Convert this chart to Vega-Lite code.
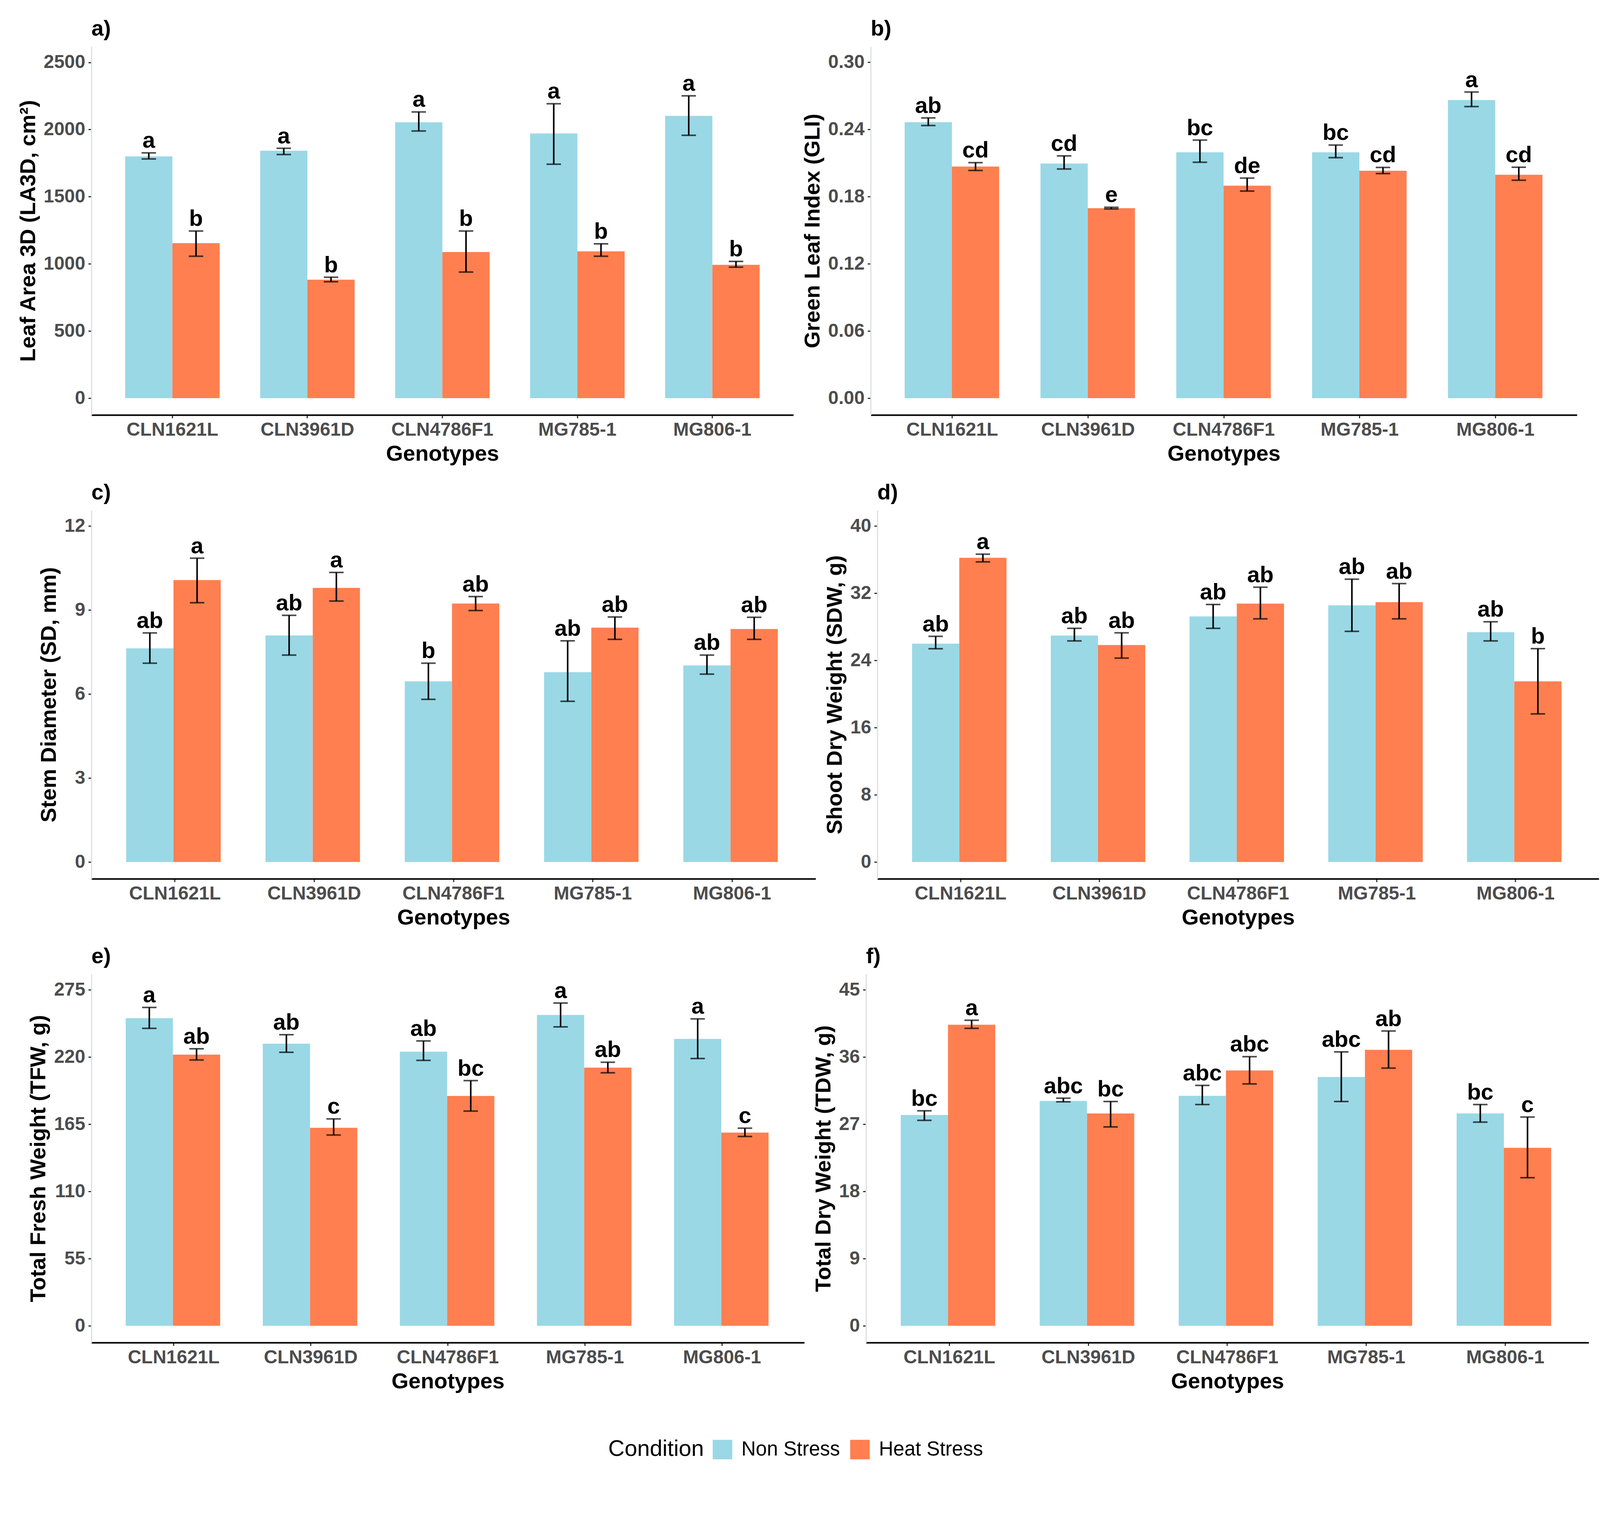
{
  "$schema": "https://vega.github.io/schema/vega-lite/v6.json",
  "padding": {"left": 44, "top": 46, "right": 10, "bottom": 10},
  "background": "white",
  "datasets": {
    "bars": [
      {"p": "a", "g": "CLN1621L", "c": "Non Stress", "m": 1800, "lo": 1781, "hi": 1826, "l": "a"},
      {"p": "a", "g": "CLN1621L", "c": "Heat Stress", "m": 1154, "lo": 1057, "hi": 1244, "l": "b"},
      {"p": "a", "g": "CLN3961D", "c": "Non Stress", "m": 1842, "lo": 1814, "hi": 1860, "l": "a"},
      {"p": "a", "g": "CLN3961D", "c": "Heat Stress", "m": 882, "lo": 867, "hi": 900, "l": "b"},
      {"p": "a", "g": "CLN4786F1", "c": "Non Stress", "m": 2054, "lo": 1989, "hi": 2131, "l": "a"},
      {"p": "a", "g": "CLN4786F1", "c": "Heat Stress", "m": 1088, "lo": 939, "hi": 1244, "l": "b"},
      {"p": "a", "g": "MG785-1", "c": "Non Stress", "m": 1971, "lo": 1742, "hi": 2192, "l": "a"},
      {"p": "a", "g": "MG785-1", "c": "Heat Stress", "m": 1093, "lo": 1057, "hi": 1149, "l": "b"},
      {"p": "a", "g": "MG806-1", "c": "Non Stress", "m": 2102, "lo": 1957, "hi": 2251, "l": "a"},
      {"p": "a", "g": "MG806-1", "c": "Heat Stress", "m": 993, "lo": 975, "hi": 1018, "l": "b"},

      {"p": "b", "g": "CLN1621L", "c": "Non Stress", "m": 0.2465, "lo": 0.2435, "hi": 0.2503, "l": "ab"},
      {"p": "b", "g": "CLN1621L", "c": "Heat Stress", "m": 0.2069, "lo": 0.2034, "hi": 0.2104, "l": "cd"},
      {"p": "b", "g": "CLN3961D", "c": "Non Stress", "m": 0.2096, "lo": 0.2047, "hi": 0.2164, "l": "cd"},
      {"p": "b", "g": "CLN3961D", "c": "Heat Stress", "m": 0.1697, "lo": 0.1690, "hi": 0.1705, "l": "e"},
      {"p": "b", "g": "CLN4786F1", "c": "Non Stress", "m": 0.2196, "lo": 0.2107, "hi": 0.2305, "l": "bc"},
      {"p": "b", "g": "CLN4786F1", "c": "Heat Stress", "m": 0.1898, "lo": 0.1850, "hi": 0.1966, "l": "de"},
      {"p": "b", "g": "MG785-1", "c": "Non Stress", "m": 0.2196, "lo": 0.2148, "hi": 0.2261, "l": "bc"},
      {"p": "b", "g": "MG785-1", "c": "Heat Stress", "m": 0.2031, "lo": 0.2006, "hi": 0.2061, "l": "cd"},
      {"p": "b", "g": "MG806-1", "c": "Non Stress", "m": 0.2663, "lo": 0.2604, "hi": 0.2734, "l": "a"},
      {"p": "b", "g": "MG806-1", "c": "Heat Stress", "m": 0.1995, "lo": 0.1947, "hi": 0.2063, "l": "cd"},

      {"p": "c", "g": "CLN1621L", "c": "Non Stress", "m": 7.63, "lo": 7.10, "hi": 8.18, "l": "ab"},
      {"p": "c", "g": "CLN1621L", "c": "Heat Stress", "m": 10.07, "lo": 9.26, "hi": 10.85, "l": "a"},
      {"p": "c", "g": "CLN3961D", "c": "Non Stress", "m": 8.09, "lo": 7.39, "hi": 8.81, "l": "ab"},
      {"p": "c", "g": "CLN3961D", "c": "Heat Stress", "m": 9.79, "lo": 9.32, "hi": 10.34, "l": "a"},
      {"p": "c", "g": "CLN4786F1", "c": "Non Stress", "m": 6.45, "lo": 5.81, "hi": 7.10, "l": "b"},
      {"p": "c", "g": "CLN4786F1", "c": "Heat Stress", "m": 9.23, "lo": 8.98, "hi": 9.48, "l": "ab"},
      {"p": "c", "g": "MG785-1", "c": "Non Stress", "m": 6.78, "lo": 5.74, "hi": 7.90, "l": "ab"},
      {"p": "c", "g": "MG785-1", "c": "Heat Stress", "m": 8.37, "lo": 7.95, "hi": 8.75, "l": "ab"},
      {"p": "c", "g": "MG806-1", "c": "Non Stress", "m": 7.02, "lo": 6.71, "hi": 7.39, "l": "ab"},
      {"p": "c", "g": "MG806-1", "c": "Heat Stress", "m": 8.32, "lo": 7.95, "hi": 8.74, "l": "ab"},

      {"p": "d", "g": "CLN1621L", "c": "Non Stress", "m": 26.0, "lo": 25.4, "hi": 26.87, "l": "ab"},
      {"p": "d", "g": "CLN1621L", "c": "Heat Stress", "m": 36.23, "lo": 35.74, "hi": 36.66, "l": "a"},
      {"p": "d", "g": "CLN3961D", "c": "Non Stress", "m": 26.97, "lo": 26.33, "hi": 27.83, "l": "ab"},
      {"p": "d", "g": "CLN3961D", "c": "Heat Stress", "m": 25.84, "lo": 24.28, "hi": 27.29, "l": "ab"},
      {"p": "d", "g": "CLN4786F1", "c": "Non Stress", "m": 29.25, "lo": 27.83, "hi": 30.66, "l": "ab"},
      {"p": "d", "g": "CLN4786F1", "c": "Heat Stress", "m": 30.77, "lo": 28.96, "hi": 32.72, "l": "ab"},
      {"p": "d", "g": "MG785-1", "c": "Non Stress", "m": 30.56, "lo": 27.47, "hi": 33.68, "l": "ab"},
      {"p": "d", "g": "MG785-1", "c": "Heat Stress", "m": 30.95, "lo": 28.96, "hi": 33.15, "l": "ab"},
      {"p": "d", "g": "MG806-1", "c": "Non Stress", "m": 27.36, "lo": 26.33, "hi": 28.61, "l": "ab"},
      {"p": "d", "g": "MG806-1", "c": "Heat Stress", "m": 21.51, "lo": 17.64, "hi": 25.41, "l": "b"},

      {"p": "e", "g": "CLN1621L", "c": "Non Stress", "m": 251.8, "lo": 243.5, "hi": 260.6, "l": "a"},
      {"p": "e", "g": "CLN1621L", "c": "Heat Stress", "m": 222.0, "lo": 217.6, "hi": 226.8, "l": "ab"},
      {"p": "e", "g": "CLN3961D", "c": "Non Stress", "m": 231.0, "lo": 223.9, "hi": 238.3, "l": "ab"},
      {"p": "e", "g": "CLN3961D", "c": "Heat Stress", "m": 162.1, "lo": 156.2, "hi": 169.4, "l": "c"},
      {"p": "e", "g": "CLN4786F1", "c": "Non Stress", "m": 224.4, "lo": 217.3, "hi": 233.2, "l": "ab"},
      {"p": "e", "g": "CLN4786F1", "c": "Heat Stress", "m": 188.2, "lo": 175.8, "hi": 200.7, "l": "bc"},
      {"p": "e", "g": "MG785-1", "c": "Non Stress", "m": 254.5, "lo": 244.7, "hi": 264.2, "l": "a"},
      {"p": "e", "g": "MG785-1", "c": "Heat Stress", "m": 211.4, "lo": 207.1, "hi": 215.8, "l": "ab"},
      {"p": "e", "g": "MG806-1", "c": "Non Stress", "m": 234.9, "lo": 218.8, "hi": 251.3, "l": "a"},
      {"p": "e", "g": "MG806-1", "c": "Heat Stress", "m": 158.2, "lo": 155.0, "hi": 161.8, "l": "c"},

      {"p": "f", "g": "CLN1621L", "c": "Non Stress", "m": 28.24, "lo": 27.52, "hi": 28.8, "l": "bc"},
      {"p": "f", "g": "CLN1621L", "c": "Heat Stress", "m": 40.32, "lo": 39.84, "hi": 40.92, "l": "a"},
      {"p": "f", "g": "CLN3961D", "c": "Non Stress", "m": 30.12, "lo": 30.0, "hi": 30.48, "l": "abc"},
      {"p": "f", "g": "CLN3961D", "c": "Heat Stress", "m": 28.44, "lo": 26.64, "hi": 30.04, "l": "bc"},
      {"p": "f", "g": "CLN4786F1", "c": "Non Stress", "m": 30.8, "lo": 29.64, "hi": 32.2, "l": "abc"},
      {"p": "f", "g": "CLN4786F1", "c": "Heat Stress", "m": 34.2, "lo": 32.4, "hi": 36.04, "l": "abc"},
      {"p": "f", "g": "MG785-1", "c": "Non Stress", "m": 33.32, "lo": 30.04, "hi": 36.68, "l": "abc"},
      {"p": "f", "g": "MG785-1", "c": "Heat Stress", "m": 36.96, "lo": 34.52, "hi": 39.48, "l": "ab"},
      {"p": "f", "g": "MG806-1", "c": "Non Stress", "m": 28.44, "lo": 27.28, "hi": 29.64, "l": "bc"},
      {"p": "f", "g": "MG806-1", "c": "Heat Stress", "m": 23.84, "lo": 19.84, "hi": 27.96, "l": "c"}
    ]
  },
  "data": {"name": "bars"},
  "spacing": 44,
  "vconcat": [
    {
      "spacing": 21,
      "hconcat": [
        {
          "width": 1797, "height": 943,
          "title": {"text": "a)"},
          "transform": [{"filter": "datum.p == 'a'"}],
          "encoding": {
            "x": {"field": "g", "type": "nominal", "sort": null, "title": "Genotypes", "scale": {"paddingInner": 0.3, "paddingOuter": 0.25}},
            "xOffset": {"field": "c", "type": "nominal", "sort": ["Non Stress", "Heat Stress"]}
          },
          "layer": [
            {"mark": "bar", "encoding": {
              "y": {"field": "m", "type": "quantitative", "title": "Leaf Area 3D (LA3D, cm²)", "scale": {"domain": [-125, 2618], "nice": false, "zero": false}, "axis": {"values": [0, 500, 1000, 1500, 2000, 2500], "format": "d"}},
              "color": {"field": "c", "type": "nominal", "title": "Condition", "sort": ["Non Stress", "Heat Stress"], "scale": {"domain": ["Non Stress", "Heat Stress"], "range": ["#9AD8E6", "#FF7F50"]}}}},
            {"mark": {"type": "rule", "color": "black", "strokeWidth": 4}, "encoding": {
              "y": {"field": "lo", "type": "quantitative", "title": "Leaf Area 3D (LA3D, cm²)", "scale": {"domain": [-125, 2618], "nice": false, "zero": false}, "axis": {"values": [0, 500, 1000, 1500, 2000, 2500], "format": "d"}}, "y2": {"field": "hi"}}},
            {"mark": {"type": "tick", "color": "black", "size": 37, "thickness": 4}, "encoding": {
              "y": {"field": "lo", "type": "quantitative", "title": "Leaf Area 3D (LA3D, cm²)", "scale": {"domain": [-125, 2618], "nice": false, "zero": false}, "axis": {"values": [0, 500, 1000, 1500, 2000, 2500], "format": "d"}}}},
            {"mark": {"type": "tick", "color": "black", "size": 37, "thickness": 4}, "encoding": {
              "y": {"field": "hi", "type": "quantitative", "title": "Leaf Area 3D (LA3D, cm²)", "scale": {"domain": [-125, 2618], "nice": false, "zero": false}, "axis": {"values": [0, 500, 1000, 1500, 2000, 2500], "format": "d"}}}},
            {"mark": {"type": "text", "baseline": "alphabetic", "dy": -13, "fontSize": 58, "fontWeight": "bold", "font": "Liberation Sans", "color": "black"}, "encoding": {
              "y": {"field": "hi", "type": "quantitative", "title": "Leaf Area 3D (LA3D, cm²)", "scale": {"domain": [-125, 2618], "nice": false, "zero": false}, "axis": {"values": [0, 500, 1000, 1500, 2000, 2500], "format": "d"}}, "text": {"field": "l"}}}
          ]
        },
        {
          "width": 1808, "height": 943,
          "title": {"text": "b)"},
          "transform": [{"filter": "datum.p == 'b'"}],
          "encoding": {
            "x": {"field": "g", "type": "nominal", "sort": null, "title": "Genotypes", "scale": {"paddingInner": 0.3, "paddingOuter": 0.25}},
            "xOffset": {"field": "c", "type": "nominal", "sort": ["Non Stress", "Heat Stress"]}
          },
          "layer": [
            {"mark": "bar", "encoding": {
              "y": {"field": "m", "type": "quantitative", "title": "Green Leaf Index (GLI)", "scale": {"domain": [-0.015, 0.3141], "nice": false, "zero": false}, "axis": {"values": [0, 0.06, 0.12, 0.18, 0.24, 0.30], "format": ".2f"}},
              "color": {"field": "c", "type": "nominal", "title": "Condition", "sort": ["Non Stress", "Heat Stress"], "scale": {"domain": ["Non Stress", "Heat Stress"], "range": ["#9AD8E6", "#FF7F50"]}}}},
            {"mark": {"type": "rule", "color": "black", "strokeWidth": 4}, "encoding": {
              "y": {"field": "lo", "type": "quantitative", "title": "Green Leaf Index (GLI)", "scale": {"domain": [-0.015, 0.3141], "nice": false, "zero": false}, "axis": {"values": [0, 0.06, 0.12, 0.18, 0.24, 0.30], "format": ".2f"}}, "y2": {"field": "hi"}}},
            {"mark": {"type": "tick", "color": "black", "size": 37, "thickness": 4}, "encoding": {
              "y": {"field": "lo", "type": "quantitative", "title": "Green Leaf Index (GLI)", "scale": {"domain": [-0.015, 0.3141], "nice": false, "zero": false}, "axis": {"values": [0, 0.06, 0.12, 0.18, 0.24, 0.30], "format": ".2f"}}}},
            {"mark": {"type": "tick", "color": "black", "size": 37, "thickness": 4}, "encoding": {
              "y": {"field": "hi", "type": "quantitative", "title": "Green Leaf Index (GLI)", "scale": {"domain": [-0.015, 0.3141], "nice": false, "zero": false}, "axis": {"values": [0, 0.06, 0.12, 0.18, 0.24, 0.30], "format": ".2f"}}}},
            {"mark": {"type": "text", "baseline": "alphabetic", "dy": -13, "fontSize": 58, "fontWeight": "bold", "font": "Liberation Sans", "color": "black"}, "encoding": {
              "y": {"field": "hi", "type": "quantitative", "title": "Green Leaf Index (GLI)", "scale": {"domain": [-0.015, 0.3141], "nice": false, "zero": false}, "axis": {"values": [0, 0.06, 0.12, 0.18, 0.24, 0.30], "format": ".2f"}}, "text": {"field": "l"}}}
          ]
        }
      ]
    },
    {
      "spacing": 21,
      "hconcat": [
        {
          "width": 1854, "height": 943,
          "title": {"text": "c)"},
          "transform": [{"filter": "datum.p == 'c'"}],
          "encoding": {
            "x": {"field": "g", "type": "nominal", "sort": null, "title": "Genotypes", "scale": {"paddingInner": 0.3, "paddingOuter": 0.25}},
            "xOffset": {"field": "c", "type": "nominal", "sort": ["Non Stress", "Heat Stress"]}
          },
          "layer": [
            {"mark": "bar", "encoding": {
              "y": {"field": "m", "type": "quantitative", "title": "Stem Diameter (SD, mm)", "scale": {"domain": [-0.6, 12.56], "nice": false, "zero": false}, "axis": {"values": [0, 3, 6, 9, 12]}},
              "color": {"field": "c", "type": "nominal", "title": "Condition", "sort": ["Non Stress", "Heat Stress"], "scale": {"domain": ["Non Stress", "Heat Stress"], "range": ["#9AD8E6", "#FF7F50"]}}}},
            {"mark": {"type": "rule", "color": "black", "strokeWidth": 4}, "encoding": {
              "y": {"field": "lo", "type": "quantitative", "title": "Stem Diameter (SD, mm)", "scale": {"domain": [-0.6, 12.56], "nice": false, "zero": false}, "axis": {"values": [0, 3, 6, 9, 12]}}, "y2": {"field": "hi"}}},
            {"mark": {"type": "tick", "color": "black", "size": 37, "thickness": 4}, "encoding": {
              "y": {"field": "lo", "type": "quantitative", "title": "Stem Diameter (SD, mm)", "scale": {"domain": [-0.6, 12.56], "nice": false, "zero": false}, "axis": {"values": [0, 3, 6, 9, 12]}}}},
            {"mark": {"type": "tick", "color": "black", "size": 37, "thickness": 4}, "encoding": {
              "y": {"field": "hi", "type": "quantitative", "title": "Stem Diameter (SD, mm)", "scale": {"domain": [-0.6, 12.56], "nice": false, "zero": false}, "axis": {"values": [0, 3, 6, 9, 12]}}}},
            {"mark": {"type": "text", "baseline": "alphabetic", "dy": -13, "fontSize": 58, "fontWeight": "bold", "font": "Liberation Sans", "color": "black"}, "encoding": {
              "y": {"field": "hi", "type": "quantitative", "title": "Stem Diameter (SD, mm)", "scale": {"domain": [-0.6, 12.56], "nice": false, "zero": false}, "axis": {"values": [0, 3, 6, 9, 12]}}, "text": {"field": "l"}}}
          ]
        },
        {
          "width": 1847, "height": 943,
          "title": {"text": "d)"},
          "transform": [{"filter": "datum.p == 'd'"}],
          "encoding": {
            "x": {"field": "g", "type": "nominal", "sort": null, "title": "Genotypes", "scale": {"paddingInner": 0.3, "paddingOuter": 0.25}},
            "xOffset": {"field": "c", "type": "nominal", "sort": ["Non Stress", "Heat Stress"]}
          },
          "layer": [
            {"mark": "bar", "encoding": {
              "y": {"field": "m", "type": "quantitative", "title": "Shoot Dry Weight (SDW, g)", "scale": {"domain": [-2, 41.88], "nice": false, "zero": false}, "axis": {"values": [0, 8, 16, 24, 32, 40]}},
              "color": {"field": "c", "type": "nominal", "title": "Condition", "sort": ["Non Stress", "Heat Stress"], "scale": {"domain": ["Non Stress", "Heat Stress"], "range": ["#9AD8E6", "#FF7F50"]}}}},
            {"mark": {"type": "rule", "color": "black", "strokeWidth": 4}, "encoding": {
              "y": {"field": "lo", "type": "quantitative", "title": "Shoot Dry Weight (SDW, g)", "scale": {"domain": [-2, 41.88], "nice": false, "zero": false}, "axis": {"values": [0, 8, 16, 24, 32, 40]}}, "y2": {"field": "hi"}}},
            {"mark": {"type": "tick", "color": "black", "size": 37, "thickness": 4}, "encoding": {
              "y": {"field": "lo", "type": "quantitative", "title": "Shoot Dry Weight (SDW, g)", "scale": {"domain": [-2, 41.88], "nice": false, "zero": false}, "axis": {"values": [0, 8, 16, 24, 32, 40]}}}},
            {"mark": {"type": "tick", "color": "black", "size": 37, "thickness": 4}, "encoding": {
              "y": {"field": "hi", "type": "quantitative", "title": "Shoot Dry Weight (SDW, g)", "scale": {"domain": [-2, 41.88], "nice": false, "zero": false}, "axis": {"values": [0, 8, 16, 24, 32, 40]}}}},
            {"mark": {"type": "text", "baseline": "alphabetic", "dy": -13, "fontSize": 58, "fontWeight": "bold", "font": "Liberation Sans", "color": "black"}, "encoding": {
              "y": {"field": "hi", "type": "quantitative", "title": "Shoot Dry Weight (SDW, g)", "scale": {"domain": [-2, 41.88], "nice": false, "zero": false}, "axis": {"values": [0, 8, 16, 24, 32, 40]}}, "text": {"field": "l"}}}
          ]
        }
      ]
    },
    {
      "spacing": 21,
      "hconcat": [
        {
          "width": 1825, "height": 943,
          "title": {"text": "e)"},
          "transform": [{"filter": "datum.p == 'e'"}],
          "encoding": {
            "x": {"field": "g", "type": "nominal", "sort": null, "title": "Genotypes", "scale": {"paddingInner": 0.3, "paddingOuter": 0.25}},
            "xOffset": {"field": "c", "type": "nominal", "sort": ["Non Stress", "Heat Stress"]}
          },
          "layer": [
            {"mark": "bar", "encoding": {
              "y": {"field": "m", "type": "quantitative", "title": "Total Fresh Weight (TFW, g)", "scale": {"domain": [-13.75, 287.9], "nice": false, "zero": false}, "axis": {"values": [0, 55, 110, 165, 220, 275]}},
              "color": {"field": "c", "type": "nominal", "title": "Condition", "sort": ["Non Stress", "Heat Stress"], "scale": {"domain": ["Non Stress", "Heat Stress"], "range": ["#9AD8E6", "#FF7F50"]}}}},
            {"mark": {"type": "rule", "color": "black", "strokeWidth": 4}, "encoding": {
              "y": {"field": "lo", "type": "quantitative", "title": "Total Fresh Weight (TFW, g)", "scale": {"domain": [-13.75, 287.9], "nice": false, "zero": false}, "axis": {"values": [0, 55, 110, 165, 220, 275]}}, "y2": {"field": "hi"}}},
            {"mark": {"type": "tick", "color": "black", "size": 37, "thickness": 4}, "encoding": {
              "y": {"field": "lo", "type": "quantitative", "title": "Total Fresh Weight (TFW, g)", "scale": {"domain": [-13.75, 287.9], "nice": false, "zero": false}, "axis": {"values": [0, 55, 110, 165, 220, 275]}}}},
            {"mark": {"type": "tick", "color": "black", "size": 37, "thickness": 4}, "encoding": {
              "y": {"field": "hi", "type": "quantitative", "title": "Total Fresh Weight (TFW, g)", "scale": {"domain": [-13.75, 287.9], "nice": false, "zero": false}, "axis": {"values": [0, 55, 110, 165, 220, 275]}}}},
            {"mark": {"type": "text", "baseline": "alphabetic", "dy": -13, "fontSize": 58, "fontWeight": "bold", "font": "Liberation Sans", "color": "black"}, "encoding": {
              "y": {"field": "hi", "type": "quantitative", "title": "Total Fresh Weight (TFW, g)", "scale": {"domain": [-13.75, 287.9], "nice": false, "zero": false}, "axis": {"values": [0, 55, 110, 165, 220, 275]}}, "text": {"field": "l"}}}
          ]
        },
        {
          "width": 1850, "height": 943,
          "title": {"text": "f)"},
          "transform": [{"filter": "datum.p == 'f'"}],
          "encoding": {
            "x": {"field": "g", "type": "nominal", "sort": null, "title": "Genotypes", "scale": {"paddingInner": 0.3, "paddingOuter": 0.25}},
            "xOffset": {"field": "c", "type": "nominal", "sort": ["Non Stress", "Heat Stress"]}
          },
          "layer": [
            {"mark": "bar", "encoding": {
              "y": {"field": "m", "type": "quantitative", "title": "Total Dry Weight (TDW, g)", "scale": {"domain": [-2.25, 47.1], "nice": false, "zero": false}, "axis": {"values": [0, 9, 18, 27, 36, 45]}},
              "color": {"field": "c", "type": "nominal", "title": "Condition", "sort": ["Non Stress", "Heat Stress"], "scale": {"domain": ["Non Stress", "Heat Stress"], "range": ["#9AD8E6", "#FF7F50"]}}}},
            {"mark": {"type": "rule", "color": "black", "strokeWidth": 4}, "encoding": {
              "y": {"field": "lo", "type": "quantitative", "title": "Total Dry Weight (TDW, g)", "scale": {"domain": [-2.25, 47.1], "nice": false, "zero": false}, "axis": {"values": [0, 9, 18, 27, 36, 45]}}, "y2": {"field": "hi"}}},
            {"mark": {"type": "tick", "color": "black", "size": 37, "thickness": 4}, "encoding": {
              "y": {"field": "lo", "type": "quantitative", "title": "Total Dry Weight (TDW, g)", "scale": {"domain": [-2.25, 47.1], "nice": false, "zero": false}, "axis": {"values": [0, 9, 18, 27, 36, 45]}}}},
            {"mark": {"type": "tick", "color": "black", "size": 37, "thickness": 4}, "encoding": {
              "y": {"field": "hi", "type": "quantitative", "title": "Total Dry Weight (TDW, g)", "scale": {"domain": [-2.25, 47.1], "nice": false, "zero": false}, "axis": {"values": [0, 9, 18, 27, 36, 45]}}}},
            {"mark": {"type": "text", "baseline": "alphabetic", "dy": -13, "fontSize": 58, "fontWeight": "bold", "font": "Liberation Sans", "color": "black"}, "encoding": {
              "y": {"field": "hi", "type": "quantitative", "title": "Total Dry Weight (TDW, g)", "scale": {"domain": [-2.25, 47.1], "nice": false, "zero": false}, "axis": {"values": [0, 9, 18, 27, 36, 45]}}, "text": {"field": "l"}}}
          ]
        }
      ]
    }
  ],
  "config": {
    "view": {"stroke": null},
    "font": "Liberation Sans",
    "title": {"fontSize": 56, "fontWeight": "bold", "color": "black", "anchor": "start", "frame": "group", "offset": 16},
    "axis": {
      "grid": false,
      "labelFont": "Liberation Sans",
      "labelFontSize": 48,
      "labelFontWeight": "bold",
      "labelColor": "#4D4D4D",
      "labelAngle": 0,
      "labelLimit": 0,
      "labelPadding": 8,
      "tickColor": "#333333",
      "tickSize": 8,
      "tickWidth": 3,
      "titleFont": "Liberation Sans",
      "titleFontSize": 56,
      "titleFontWeight": "bold",
      "titleColor": "black",
      "titlePadding": 10
    },
    "axisX": {"domainColor": "black", "domainWidth": 4, "labelPadding": 6},
    "axisY": {"domainColor": "#E0E0E0", "domainWidth": 3},
    "legend": {
      "orient": "none",
      "legendX": 1323,
      "legendY": 3565,
      "direction": "horizontal",
      "titleOrient": "left",
      "titleFont": "Liberation Sans",
      "titleFontSize": 58,
      "titleFontWeight": "normal",
      "titleColor": "black",
      "titlePadding": 21,
      "titleLimit": 0,
      "labelFont": "Liberation Sans",
      "labelFontSize": 51,
      "labelColor": "black",
      "labelLimit": 0,
      "labelOffset": 23,
      "symbolType": "square",
      "symbolSize": 2500,
      "symbolStrokeWidth": 0,
      "columnPadding": 25
    }
  }
}
